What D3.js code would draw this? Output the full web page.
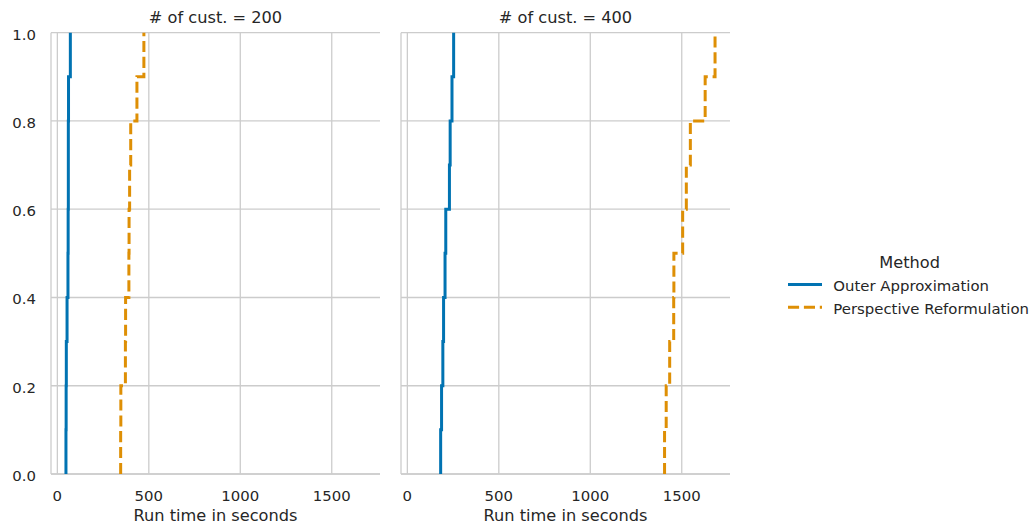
<!DOCTYPE html>
<html lang="en">
  <head>
    <meta charset="utf-8">
    <title>ECDF of run times</title>
    <script src="https://cdn.jsdelivr.net/npm/d3@7"></script>
    <style>
      body { margin: 0; background: #fff; }
      svg text { font-family: 'DejaVu Sans', sans-serif; fill: #262626; }
      .tick_label { font-size: 14.9px; }
      .ax_label, .panel_title, .leg_title { font-size: 16.2px; }
      .leg_text { font-size: 14.9px; }
      .grid line { stroke: #cccccc; stroke-width: 1.3; }
    </style>
  </head>
  <body>
    <div id="chart"></div>
    <script>
      const svg_width = 1034;
      const svg_height = 527;

      // panels (facets) and methods
      const panels = ['# of cust. = 200', '# of cust. = 400'];
      const methods = ['Outer Approximation', 'Perspective Reformulation'];
      const colors = ['#0173b2', '#de8f05'];

      // run times in seconds
      const oa_200 = [47, 48, 49, 53, 58, 59, 60, 60, 61, 71];
      const pr_200 = [346, 347, 372, 373, 391, 392, 395, 401, 435, 473];
      const oa_400 = [182, 187, 194, 198, 206, 210, 230, 234, 244, 253];
      const pr_400 = [1406, 1415, 1434, 1456, 1457, 1505, 1525, 1547, 1628, 1682];

      const series = [[oa_200, pr_200], [oa_400, pr_400]];

      const x_ticks = [0, 500, 1000, 1500];
      const y_ticks = [0, 0.2, 0.4, 0.6, 0.8, 1.0];

      const panel_left = [51, 401];
      const panel_w = 329;
      const plot_top = 32.7, plot_bottom = 474;

      // shared x domain with matplotlib style 5% margins
      const all_vals = series.flat(2);
      const xmin = d3.min(all_vals), xmax = d3.max(all_vals);
      const pad = (xmax - xmin) * 0.05;

      const y_scale = d3.scaleLinear().domain([0, 1]).range([plot_bottom, plot_top]);

      const svg = d3.select('#chart')
        .append('svg')
        .attr('width', svg_width)
        .attr('height', svg_height);

      const ecdf_line = d3.line()
        .x(d => d.xs(d.v))
        .y(d => y_scale(d.p))
        .curve(d3.curveStepAfter);

      panels.forEach((title, pi) => {
        const x_scale = d3.scaleLinear()
          .domain([xmin - pad, xmax + pad])
          .range([panel_left[pi], panel_left[pi] + panel_w]);

        const g = svg.append('g');

        //grid
        const grid = g.append('g').attr('class', 'grid');
        grid.selectAll('.vg').data(x_ticks).enter()
          .append('line')
          .attr('x1', d => x_scale(d)).attr('x2', d => x_scale(d))
          .attr('y1', plot_top).attr('y2', plot_bottom);
        grid.selectAll('.hg').data(y_ticks).enter()
          .append('line')
          .attr('x1', panel_left[pi]).attr('x2', panel_left[pi] + panel_w)
          .attr('y1', d => y_scale(d)).attr('y2', d => y_scale(d));

        //spines (left and bottom only)
        grid.append('line')
          .attr('x1', panel_left[pi]).attr('x2', panel_left[pi])
          .attr('y1', plot_top).attr('y2', plot_bottom);
        grid.append('line')
          .attr('x1', panel_left[pi]).attr('x2', panel_left[pi] + panel_w)
          .attr('y1', plot_bottom).attr('y2', plot_bottom);

        //x tick labels
        g.selectAll('.xt').data(x_ticks).enter()
          .append('text')
          .attr('class', 'tick_label')
          .attr('x', d => x_scale(d))
          .attr('y', 500.7)
          .attr('text-anchor', 'middle')
          .text(d => d);

        //y tick labels on first panel only
        if (pi === 0) {
          g.selectAll('.yt').data(y_ticks).enter()
            .append('text')
            .attr('class', 'tick_label')
            .attr('x', 36)
            .attr('y', d => y_scale(d) + 7)
            .attr('text-anchor', 'end')
            .text(d => d3.format('.1f')(d));
        }

        g.append('text')
          .attr('class', 'panel_title')
          .attr('x', panel_left[pi] + panel_w / 2)
          .attr('y', 23.3)
          .attr('text-anchor', 'middle')
          .text(title);

        g.append('text')
          .attr('class', 'ax_label')
          .attr('x', panel_left[pi] + panel_w / 2)
          .attr('y', 521)
          .attr('text-anchor', 'middle')
          .text('Run time in seconds');

        //ecdf steps
        series[pi].forEach((vals, mi) => {
          const sorted = vals.slice().sort((a, b) => a - b);
          const n = sorted.length;
          const pts = [{ v: sorted[0], p: 0, xs: x_scale }]
            .concat(sorted.map((v, i) => ({ v: v, p: (i + 1) / n, xs: x_scale })));
          g.append('path')
            .attr('d', ecdf_line(pts))
            .attr('fill', 'none')
            .attr('stroke', colors[mi])
            .attr('stroke-width', 3)
            .attr('stroke-dasharray', mi === 1 ? '11.1,4.8' : null);
        });
      });

      //legend
      const legend = svg.append('g');
      legend.append('text')
        .attr('class', 'leg_title')
        .attr('x', 909.7)
        .attr('y', 268.3)
        .attr('text-anchor', 'middle')
        .text('Method');
      const leg_y = [284.5, 307.3];
      methods.forEach((m, i) => {
        legend.append('line')
          .attr('x1', 788).attr('x2', 822)
          .attr('y1', leg_y[i]).attr('y2', leg_y[i])
          .attr('stroke', colors[i])
          .attr('stroke-width', 3)
          .attr('stroke-dasharray', i === 1 ? '11.1,4.8' : null);
        legend.append('text')
          .attr('class', 'leg_text')
          .attr('x', 833.3)
          .attr('y', leg_y[i] + 6.3)
          .text(m);
      });
    </script>
  </body>
</html>
